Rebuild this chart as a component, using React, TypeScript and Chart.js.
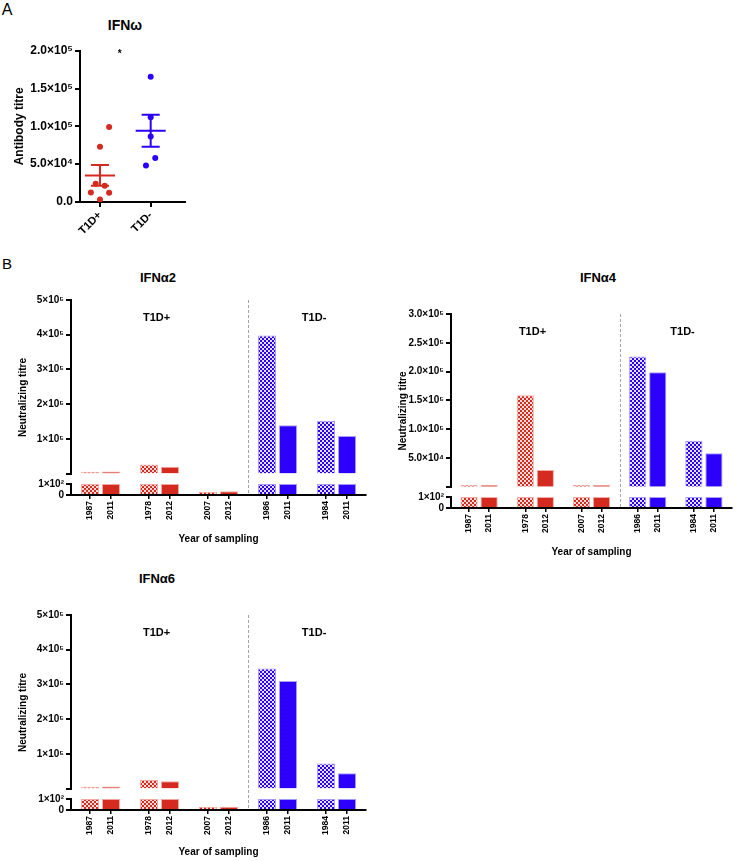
import React, { useEffect, useRef } from 'react';
import { Chart, registerables } from 'chart.js';

Chart.register(...registerables);
const FONT = '"Liberation Sans", Arial, Helvetica, sans-serif';
Chart.defaults.font.family = FONT;
Chart.defaults.color = '#000';

// ---------------- Panel A data (IFNω) ----------------
const groupsA = ['T1D+', 'T1D-'];
const ifnwPos = [99000, 73000, 24000, 21500, 12700, 12300, 3400];
const ifnwPosJitter = [0.18, 0, -0.085, 0.093, -0.18, 0.18, 0];
const ifnwNeg = [165700, 112100, 86500, 48300, 58000];
const ifnwNegJitter = [0, 0, 0, -0.093, 0.09];
const yTicksA = [0, 50000, 100000, 150000, 200000];
const yTickLabelsA = ['0.0', '5.0×10⁴', '1.0×10⁵', '1.5×10⁵', '2.0×10⁵'];
const sigStar = { x: 0.39, y: 195000 };

// ---------------- Panel B data ----------------
const yearLabels = ['1987', '2011', '1978', '2012', '2007', '2012', '1986', '2011', '1984', '2011'];
const pairGroups = ['T1D+', 'T1D+', 'T1D+', 'T1D-', 'T1D-'];
const ifna2 = [5000, 6000, 26000, 20000, 30, 33, 398000, 139000, 152000, 108000];
const ifna4 = [3000, 3500, 159000, 29000, 3000, 3000, 226000, 199000, 80000, 58000];
const ifna6 = [5000, 6000, 25000, 21000, 30, 30, 346000, 310000, 72000, 44000];
const breakValue = 100;
const lowTicks = [0, 100];
const lowTickLabels = ['0', '1×10²'];
const ticks5e5 = [100000, 200000, 300000, 400000, 500000];
const labels5e5 = ['1×10⁵', '2×10⁵', '3×10⁵', '4×10⁵', '5×10⁵'];
const ticks3e5 = [50000, 100000, 150000, 200000, 250000, 300000];
const labels3e5 = ['5.0×10⁴', '1.0×10⁵', '1.5×10⁵', '2.0×10⁵', '2.5×10⁵', '3.0×10⁵'];
const groupLabels = [
  { text: 'T1D+', at: 0.95 },
  { text: 'T1D-', at: 3.62 },
];

// ---------------- styles ----------------
const COLORS: Record<string, { solid: string; light: string; border: string }> = {
  'T1D+': { solid: '#d42a1f', light: '#f9dcd9', border: '#f3aaa4' },
  'T1D-': { solid: '#2d00fb', light: '#e4e1ff', border: '#a79cff' },
};
const CAT_PCT = 0.714;
const BAR_PCT = 0.857;
const Y_W = 71;

function makePattern(color: string, light: string) {
  const c = document.createElement('canvas');
  c.width = 4;
  c.height = 4;
  const g = c.getContext('2d')!;
  g.fillStyle = light;
  g.fillRect(0, 0, 4, 4);
  g.fillStyle = color;
  g.fillRect(0, 0, 2, 2);
  g.fillRect(2, 2, 2, 2);
  return g.createPattern(c, 'repeat');
}

const mean = (a: number[]) => a.reduce((s, v) => s + v, 0) / a.length;
const sem = (a: number[]) => {
  const m = mean(a);
  const sd = Math.sqrt(a.reduce((s, v) => s + (v - m) * (v - m), 0) / (a.length - 1));
  return sd / Math.sqrt(a.length);
};

// ---------------- Panel A config ----------------
function buildA() {
  const red = COLORS['T1D+'].solid;
  const blue = COLORS['T1D-'].solid;
  const MEAN_HW = 0.296;
  const CAP_HW = 0.178;
  const seg = (pts: { x: number; y: number }[], color: string) => ({
    data: pts,
    showLine: true,
    borderColor: color,
    borderWidth: 2,
    pointRadius: 0,
    fill: false,
  });
  const errorSets = (xc: number, vals: number[], color: string) => {
    const m = mean(vals);
    const s = sem(vals);
    return [
      seg([{ x: xc - MEAN_HW, y: m }, { x: xc + MEAN_HW, y: m }], color),
      seg([{ x: xc, y: m - s }, { x: xc, y: m + s }], color),
      seg([{ x: xc - CAP_HW, y: m + s }, { x: xc + CAP_HW, y: m + s }], color),
      seg([{ x: xc - CAP_HW, y: m - s }, { x: xc + CAP_HW, y: m - s }], color),
    ];
  };
  const starPlugin = {
    id: 'sigStar',
    afterDatasetsDraw(chart: any) {
      const { ctx, scales } = chart;
      ctx.save();
      ctx.font = `bold 10px ${FONT}`;
      ctx.fillStyle = '#000';
      ctx.textAlign = 'center';
      ctx.textBaseline = 'middle';
      ctx.fillText('*', scales.x.getPixelForValue(sigStar.x), scales.y.getPixelForValue(sigStar.y));
      ctx.restore();
    },
  };
  return {
    type: 'scatter',
    data: {
      datasets: [
        ...errorSets(0, ifnwPos, red),
        ...errorSets(1, ifnwNeg, blue),
        {
          data: ifnwPos.map((v, i) => ({ x: ifnwPosJitter[i], y: v })),
          backgroundColor: red,
          pointRadius: 3,
          borderWidth: 0,
        },
        {
          data: ifnwNeg.map((v, i) => ({ x: 1 + ifnwNegJitter[i], y: v })),
          backgroundColor: blue,
          pointRadius: 3,
          borderWidth: 0,
        },
      ],
    },
    plugins: [starPlugin],
    options: {
      animation: false,
      responsive: false,
      events: [],
      layout: { padding: { left: 0, right: 65, top: 50.7, bottom: 0 } },
      plugins: { legend: { display: false }, tooltip: { enabled: false } },
      scales: {
        x: {
          type: 'linear',
          min: -0.394,
          max: 1.677,
          offset: false,
          afterBuildTicks: (s: any) => {
            s.ticks = groupsA.map((_, i) => ({ value: i }));
          },
          afterFit: (s: any) => {
            s.height = 40;
          },
          ticks: {
            autoSkip: false,
            minRotation: 45,
            maxRotation: 45,
            padding: 2,
            color: '#000',
            font: { size: 11, weight: 'bold' },
            callback: (_v: any, i: number) => groupsA[i],
          },
          grid: { display: true, drawOnChartArea: false, drawTicks: true, tickLength: 5, color: '#000', lineWidth: 2 },
          border: { display: true, color: '#000', width: 2 },
        },
        y: {
          type: 'linear',
          min: 0,
          max: 200000,
          afterBuildTicks: (s: any) => {
            s.ticks = yTicksA.map((v) => ({ value: v }));
          },
          afterFit: (s: any) => {
            s.width = 80;
          },
          ticks: {
            autoSkip: false,
            padding: 2,
            color: '#000',
            font: { size: 12, weight: 'bold' },
            callback: (_v: any, i: number) => yTickLabelsA[i],
          },
          title: {
            display: true,
            text: 'Antibody titre',
            color: '#000',
            font: { size: 12, weight: 'bold' },
            padding: { top: 12.8, bottom: 0 },
          },
          grid: { display: true, drawOnChartArea: false, drawTicks: true, tickLength: 5, color: '#000', lineWidth: 2 },
          border: { display: true, color: '#000', width: 2 },
        },
      },
    },
  };
}

// ---------------- Panel B config ----------------
function buildBreak(values: number[], highTicks: number[], highLabels: string[], xAxisH: number) {
  const low = values.map((v) => Math.min(v, breakValue));
  const high = values.map((v) => (v > breakValue ? v : null));
  const pick = (arr: any[], parity: number) => arr.filter((_, k) => k % 2 === parity);
  const patterns: Record<string, any> = {};
  Object.keys(COLORS).forEach((k) => {
    patterns[k] = makePattern(COLORS[k].solid, COLORS[k].light);
  });
  const earlyColors = pairGroups.map((g) => patterns[g]);
  const lateColors = pairGroups.map((g) => COLORS[g].solid);
  const borders = pairGroups.map((g) => COLORS[g].border);
  const common = {
    categoryPercentage: CAT_PCT,
    barPercentage: BAR_PCT,
    borderWidth: 1,
    borderColor: borders,
    xAxisID: 'x',
  };
  const pairOffset = CAT_PCT / 4;
  const tickPos = yearLabels.map((_, k) => Math.floor(k / 2) + (k % 2 === 0 ? -pairOffset : pairOffset));

  const annot = {
    id: 'breakAnnot',
    afterDraw(chart: any) {
      const { ctx, chartArea: ca } = chart;
      const xs = chart.scales.x2;
      ctx.save();
      const px = Math.round(xs.getPixelForValue(2.5)) + 0.5;
      ctx.strokeStyle = '#a3a3a3';
      ctx.lineWidth = 1;
      ctx.setLineDash([3, 2]);
      ctx.beginPath();
      ctx.moveTo(px, ca.top);
      ctx.lineTo(px, ca.bottom);
      ctx.stroke();
      ctx.setLineDash([]);
      ctx.fillStyle = '#000';
      ctx.textAlign = 'center';
      ctx.textBaseline = 'middle';
      ctx.font = `bold 11px ${FONT}`;
      groupLabels.forEach((g) => ctx.fillText(g.text, xs.getPixelForValue(g.at), ca.top + 17.5));
      ctx.font = `bold 10px ${FONT}`;
      ctx.translate(23, (ca.top + ca.bottom) / 2);
      ctx.rotate(-Math.PI / 2);
      ctx.fillText('Neutralizing titre', 0, 0);
      ctx.restore();
    },
  };

  const yTickStyle = { autoSkip: false, padding: 2, color: '#000', font: { size: 10, weight: 'bold' } };
  const yGrid = { display: true, drawOnChartArea: false, drawTicks: true, tickLength: 5, color: '#000', lineWidth: 2 };
  const yBorder = { display: true, color: '#000', width: 2 };

  return {
    type: 'bar',
    data: {
      labels: pairGroups.map((_, i) => String(i)),
      datasets: [
        { ...common, data: pick(high, 0), yAxisID: 'yHigh', stack: 'early', backgroundColor: earlyColors },
        { ...common, data: pick(low, 0), yAxisID: 'yLow', stack: 'early', backgroundColor: earlyColors },
        { ...common, data: pick(high, 1), yAxisID: 'yHigh', stack: 'late', backgroundColor: lateColors },
        { ...common, data: pick(low, 1), yAxisID: 'yLow', stack: 'late', backgroundColor: lateColors },
      ],
    },
    plugins: [annot],
    options: {
      animation: false,
      responsive: false,
      events: [],
      layout: { padding: { left: 0, right: 14, top: 20, bottom: 0 } },
      plugins: { legend: { display: false }, tooltip: { enabled: false } },
      scales: {
        x: { type: 'category', display: false, offset: true },
        x2: {
          type: 'linear',
          position: 'bottom',
          min: -0.5,
          max: 4.5,
          offset: false,
          bounds: 'data',
          afterBuildTicks: (s: any) => {
            s.ticks = tickPos.map((v) => ({ value: v }));
          },
          afterFit: (s: any) => {
            s.height = xAxisH;
          },
          ticks: {
            autoSkip: false,
            minRotation: 90,
            maxRotation: 90,
            padding: 2,
            color: '#000',
            font: { size: 8.5, weight: 'bold' },
            callback: (_v: any, i: number) => yearLabels[i],
          },
          title: {
            display: true,
            text: 'Year of sampling',
            color: '#000',
            font: { size: 10, weight: 'bold' },
            padding: { top: 0, bottom: 0 },
          },
          grid: { display: true, offset: false, drawOnChartArea: false, drawTicks: true, tickLength: 4, color: '#000', lineWidth: 1.5 },
          border: { display: true, color: '#000', width: 2 },
        },
        yHigh: {
          type: 'linear',
          position: 'left',
          stack: 'v',
          stackWeight: 173,
          weight: 3,
          min: breakValue,
          max: highTicks[highTicks.length - 1],
          beginAtZero: false,
          stacked: false,
          afterBuildTicks: (s: any) => {
            s.ticks = [breakValue, ...highTicks].map((v) => ({ value: v }));
          },
          afterFit: (s: any) => {
            s.width = Y_W;
          },
          ticks: { ...yTickStyle, callback: (_v: any, i: number) => (i === 0 ? '' : highLabels[i - 1]) },
          grid: yGrid,
          border: yBorder,
        },
        yGap: {
          type: 'linear',
          position: 'left',
          stack: 'v',
          stackWeight: 10.4,
          weight: 2,
          ticks: { display: false },
          grid: { display: false, drawTicks: false },
          border: { display: false },
          afterFit: (s: any) => {
            s.width = Y_W;
          },
        },
        yLow: {
          type: 'linear',
          position: 'left',
          stack: 'v',
          stackWeight: 11,
          weight: 1,
          min: 0,
          max: breakValue,
          beginAtZero: false,
          stacked: false,
          afterBuildTicks: (s: any) => {
            s.ticks = lowTicks.map((v) => ({ value: v }));
          },
          afterFit: (s: any) => {
            s.width = Y_W;
          },
          ticks: { ...yTickStyle, callback: (_v: any, i: number) => lowTickLabels[i] },
          grid: yGrid,
          border: yBorder,
        },
      },
    },
  };
}

function ChartBox(props: { left: number; top: number; width: number; height: number; build: () => any }) {
  const ref = useRef<HTMLCanvasElement>(null);
  useEffect(() => {
    const chart = new Chart(ref.current as HTMLCanvasElement, props.build());
    return () => chart.destroy();
  }, []);
  const { left, top, width, height } = props;
  return (
    <canvas
      ref={ref}
      width={width}
      height={height}
      style={{ position: 'absolute', left, top, width, height, display: 'block' }}
    />
  );
}

function Label(props: { text: string; x: number; y: number; size: number; bold?: boolean }) {
  return (
    <div
      style={{
        position: 'absolute',
        left: props.x,
        top: props.y,
        transform: 'translate(-50%, -50%)',
        fontFamily: FONT,
        fontSize: props.size,
        fontWeight: props.bold ? 'bold' : 'normal',
        lineHeight: 1,
        whiteSpace: 'nowrap',
        color: '#000',
      }}
    >
      {props.text}
    </div>
  );
}

export default function App() {
  return (
    <div style={{ position: 'absolute', left: 0, top: 0, width: 746, height: 861, background: '#fff', overflow: 'hidden' }}>
      <Label text="A" x={7} y={10} size={16} />
      <Label text="B" x={7} y={263} size={15} />
      <Label text="IFNω" x={125} y={25} size={14} bold />
      <Label text="IFNα2" x={158} y={277} size={13} bold />
      <Label text="IFNα4" x={598} y={277} size={13} bold />
      <Label text="IFNα6" x={157} y={578} size={13} bold />
      <ChartBox left={0} top={0} width={250} height={242} build={buildA} />
      <ChartBox left={0} top={280} width={380} height={265} build={() => buildBreak(ifna2, ticks5e5, labels5e5, 50)} />
      <ChartBox left={380} top={294} width={366} height={264} build={() => buildBreak(ifna4, ticks3e5, labels3e5, 50)} />
      <ChartBox left={0} top={595} width={380} height={263} build={() => buildBreak(ifna6, ticks5e5, labels5e5, 48)} />
    </div>
  );
}
